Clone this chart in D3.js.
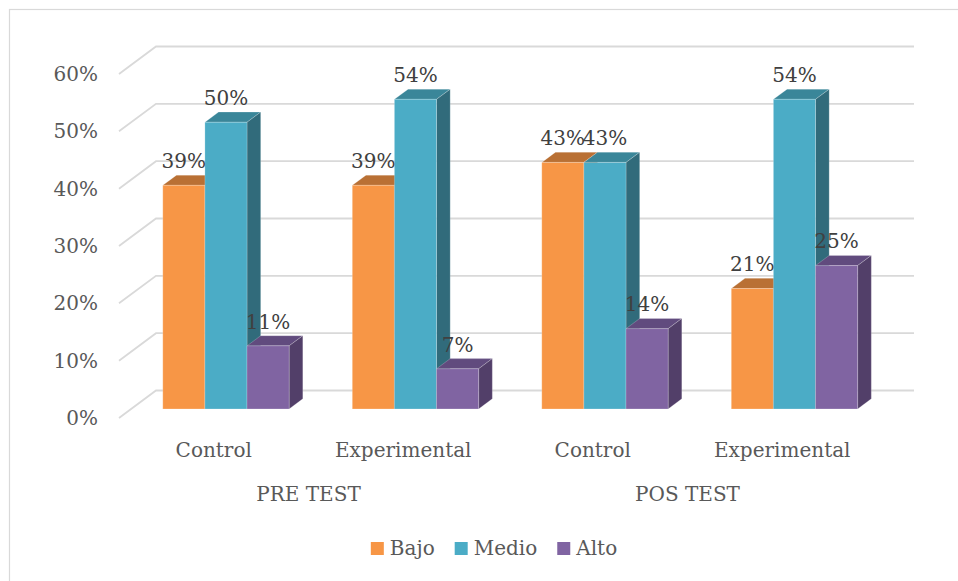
<!DOCTYPE html>
<html>
<head>
<meta charset="utf-8">
<script src="https://cdn.jsdelivr.net/npm/d3@7"></script>
<style>
  html, body { margin: 0; padding: 0; background: #fff; }
  svg { display: block; }
  text { font-family: "DejaVu Serif", "Liberation Serif", serif; }
</style>
</head>
<body>
<svg id="chart" width="958" height="581"></svg>
<script>
// Nivel de logro por grupo y momento de evaluación
const categories = ["Control", "Experimental", "Control", "Experimental"];
const testGroups = ["PRE TEST", "POS TEST"];
const categoryGroup = [0, 0, 1, 1];
const seriesNames = ["Bajo", "Medio", "Alto"];
const bajo  = [39, 39, 43, 21];
const medio = [50, 54, 43, 54];
const alto  = [11, 7, 14, 25];
const tickValues = [0, 10, 20, 30, 40, 50, 60];

const seriesValues = [bajo, medio, alto];
const palette = {
  Bajo:  { front: "#f79646", top: "#b97034", side: "#a9622d" },
  Medio: { front: "#4bacc6", top: "#3a8699", side: "#316b7b" },
  Alto:  { front: "#8064a2", top: "#614b7e", side: "#523f69" }
};

const svg = d3.select("#chart");
const fontSize = 20;

// 3D projection: front plane plus a depth offset
const depth = { dx: 37, dy: 27.5 };
const x = d3.scaleBand().domain(d3.range(categories.length)).range([119, 877]);
const y = d3.scaleLinear().domain([0, 60]).range([418, 74]);
const proj = (px, v, z) => [px + depth.dx * z, y(v) - depth.dy * z];

const xs = d3.scaleBand().domain(seriesNames)
  .range([x.bandwidth() / 6, x.bandwidth() * 5 / 6]);
const barZ0 = 0.33, barZ1 = 0.70;

// outer frame
svg.append("rect")
  .attr("x", 9.5).attr("y", 9.5).attr("width", 980).attr("height", 620)
  .attr("fill", "#fff").attr("stroke", "#d9d9d9").attr("stroke-width", 1.2);

// gridlines: side wall diagonal + back wall
const grid = svg.append("g").attr("fill", "none")
  .attr("stroke", "#d9d9d9").attr("stroke-width", 1.8);
tickValues.forEach(t => {
  const a = proj(x.range()[0], t, 0);
  const b = proj(x.range()[0], t, 1);
  const c = proj(x.range()[1], t, 1);
  grid.append("path").attr("d", `M${a}L${b}L${c}`);
});

// y tick labels
svg.append("g").selectAll("text").data(tickValues).join("text")
  .attr("x", 98).attr("y", d => y(d) + 7)
  .attr("text-anchor", "end").attr("font-size", fontSize).attr("fill", "#595959")
  .text(d => d + "%");

// bars
const bars = svg.append("g");
categories.forEach((cat, i) => {
  seriesNames.forEach((s, k) => {
    const v = seriesValues[k][i];
    const x0 = x(i) + xs(s), x1 = x0 + xs.bandwidth();
    const col = palette[s];
    const fBL = proj(x0, 0, barZ0), fBR = proj(x1, 0, barZ0);
    const fTL = proj(x0, v, barZ0), fTR = proj(x1, v, barZ0);
    const bTL = proj(x0, v, barZ1), bTR = proj(x1, v, barZ1);
    const bBR = proj(x1, 0, barZ1);
    const g = bars.append("g").attr("stroke", "rgba(255,255,255,0.35)").attr("stroke-width", 0.6);
    g.append("path").attr("d", `M${fTL}L${bTL}L${bTR}L${fTR}Z`).attr("fill", col.top);
    g.append("path").attr("d", `M${fTR}L${bTR}L${bBR}L${fBR}Z`).attr("fill", col.side);
    g.append("path").attr("d", `M${fBL}L${fTL}L${fTR}L${fBR}Z`).attr("fill", col.front);
  });
});

// value labels
const labels = svg.append("g");
categories.forEach((cat, i) => {
  seriesNames.forEach((s, k) => {
    const v = seriesValues[k][i];
    const cx = x(i) + xs(s) + xs.bandwidth() / 2 + depth.dx * barZ0;
    const top = proj(0, v, barZ1)[1];
    labels.append("text")
      .attr("x", cx).attr("y", top - 7)
      .attr("text-anchor", "middle").attr("font-size", fontSize).attr("fill", "#404040")
      .text(v + "%");
  });
});

// category labels
svg.append("g").selectAll("text").data(categories).join("text")
  .attr("x", (d, i) => x(i) + x.bandwidth() / 2)
  .attr("y", 457)
  .attr("text-anchor", "middle").attr("font-size", fontSize).attr("fill", "#595959")
  .text(d => d);

// test-moment labels
svg.append("g").selectAll("text").data(testGroups).join("text")
  .attr("x", (d, gi) => {
    const idx = categoryGroup.map((g, i) => g === gi ? i : -1).filter(i => i >= 0);
    return (x(idx[0]) + x(idx[idx.length - 1]) + x.bandwidth()) / 2;
  })
  .attr("y", 501)
  .attr("text-anchor", "middle").attr("font-size", fontSize).attr("fill", "#595959")
  .text(d => d);

// legend
const legend = svg.append("g");
const items = legend.selectAll("g").data(seriesNames).join("g");
items.append("rect").attr("width", 13).attr("height", 13).attr("y", -13)
  .attr("fill", d => palette[d].front);
items.append("text").attr("x", 19).attr("y", 0)
  .attr("font-size", fontSize).attr("fill", "#595959").text(d => d);
const widths = [];
items.each(function () {
  widths.push(19 + this.querySelector("text").getComputedTextLength());
});
const gap = 20;
const total = d3.sum(widths) + gap * (widths.length - 1);
const startX = 494 - total / 2;
items.attr("transform", (d, i) => {
  const tx = startX + d3.sum(widths.slice(0, i)) + gap * i;
  return `translate(${tx},555)`;
});
</script>
</body>
</html>
